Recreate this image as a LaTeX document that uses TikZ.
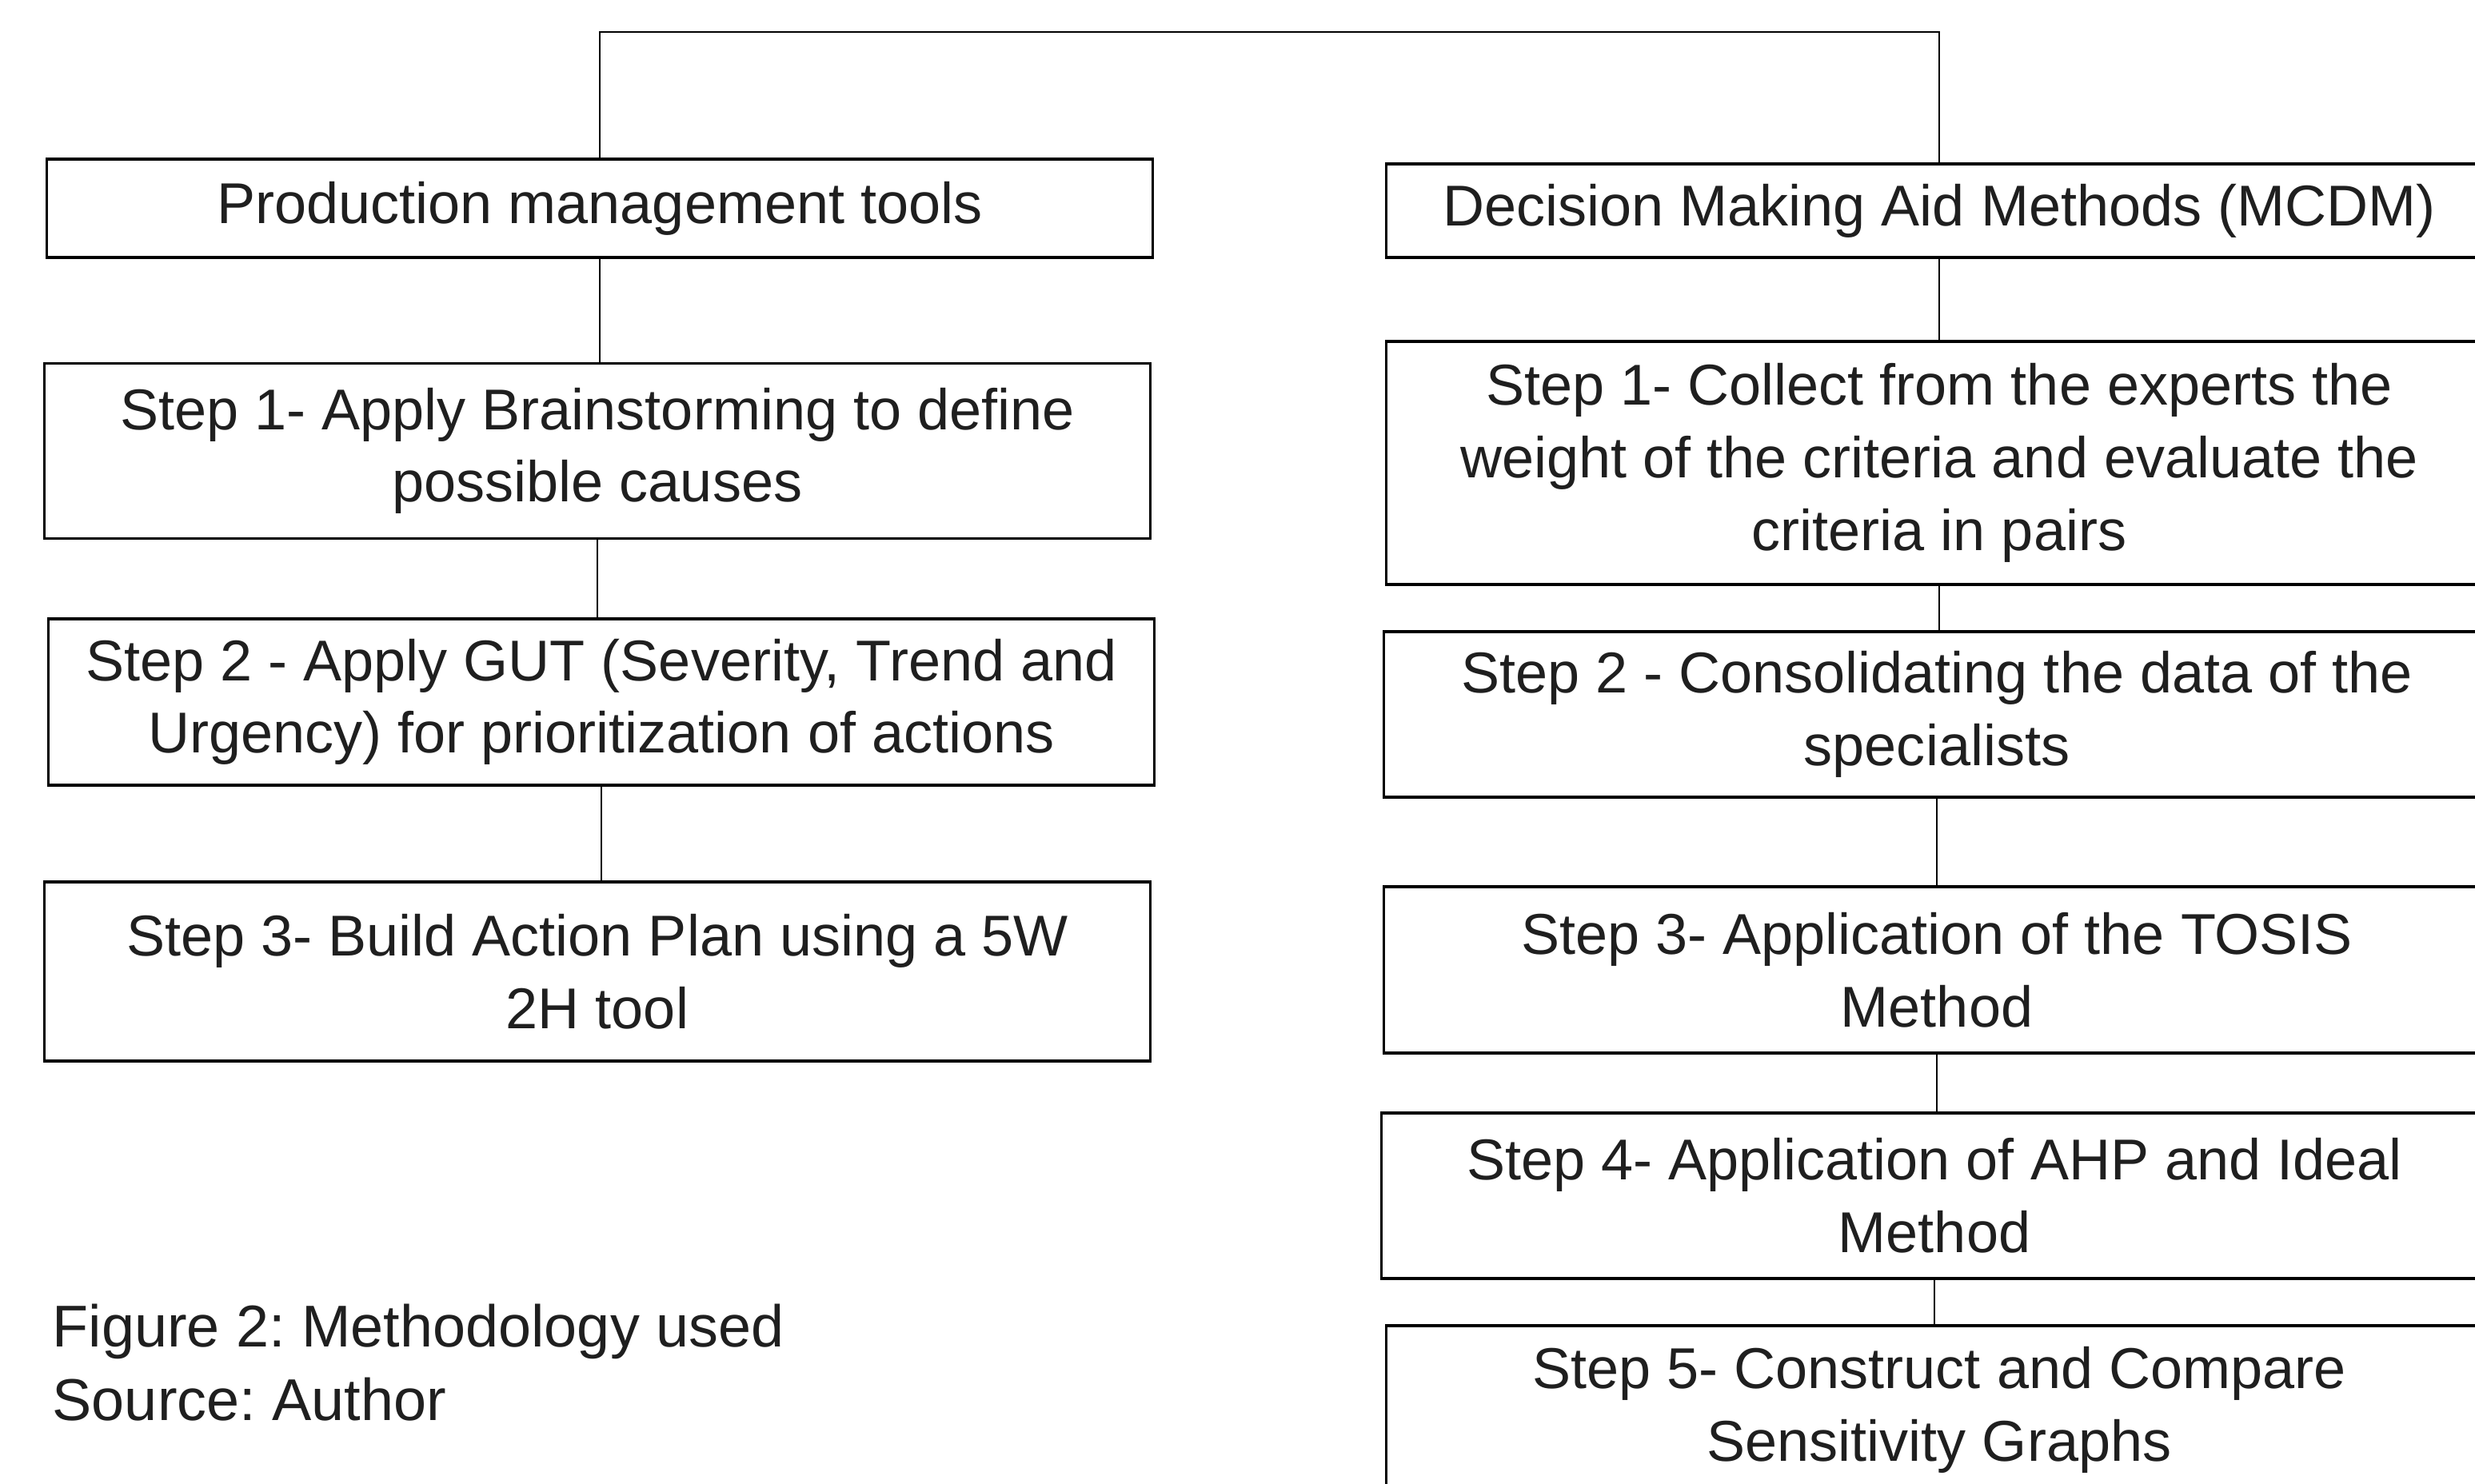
\documentclass[tikz,border=0pt]{standalone}
\usepackage{fontspec}
\setmainfont{Liberation Sans}
\usepackage{tikz}

\begin{document}
\begin{tikzpicture}[
	box/.style={draw=black, line width=1.1pt, minimum width=13.83cm, align=center, inner sep=0pt, font=\fontsize{20.5}{25.8}\selectfont, text=black!88},
	link/.style={draw=black, line width=0.7pt}
]
	\useasboundingbox (0,0) rectangle (30.95,-18.55);
	\node[box, minimum height=1.23cm] (pmt) at (7.50,-2.605) {Production management tools};
	\node[box, minimum height=2.19cm] (l1) at (7.47,-5.64) {Step 1- Apply Brainstorming to define\\possible causes};
	\node[box, minimum height=2.08cm] (l2) at (7.52,-8.78) {Step 2 - Apply GUT (Severity, Trend and\\Urgency) for prioritization of actions};
	\node[box, minimum height=2.24cm] (l3) at (7.47,-12.15) {Step 3- Build Action Plan using a 5W\\2H tool};
	\node[box, minimum height=1.17cm] (mcdm) at (24.25,-2.635) {Decision Making Aid Methods (MCDM)};
	\node[box, minimum height=3.04cm] (r1) at (24.25,-5.79) {Step 1- Collect from the experts the\\weight of the criteria and evaluate the\\criteria in pairs};
	\node[box, minimum height=2.07cm] (r2) at (24.22,-8.935) {Step 2 - Consolidating the data of the\\specialists};
	\node[box, minimum height=2.08cm] (r3) at (24.22,-12.13) {Step 3- Application of the TOSIS\\Method};
	\node[box, minimum height=2.07cm] (r4) at (24.19,-14.955) {Step 4- Application of AHP and Ideal\\Method};
	\node[box, minimum height=2.10cm] (r5) at (24.25,-17.63) {Step 5- Construct and Compare\\Sensitivity Graphs};
	\node[anchor=base west, inner sep=0pt, align=left, font=\fontsize{21}{26}\selectfont\frenchspacing, text=black!88] (caption) at (0.65,-17.76) {Figure 2: Methodology used\\Source: Author};
	\draw[link] (pmt.north) -- (pmt.north |- 0,-0.40) -| (mcdm.north);
	\draw[link] (pmt.south) -- (pmt.south |- l1.north);
	\draw[link] (l1.south) -- (l1.south |- l2.north);
	\draw[link] (l2.south) -- (l2.south |- l3.north);
	\draw[link] (mcdm.south) -- (mcdm.south |- r1.north);
	\draw[link] (r1.south) -- (r1.south |- r2.north);
	\draw[link] (r2.south) -- (r2.south |- r3.north);
	\draw[link] (r3.south) -- (r3.south |- r4.north);
	\draw[link] (r4.south) -- (r4.south |- r5.north);
\end{tikzpicture}
\end{document}
